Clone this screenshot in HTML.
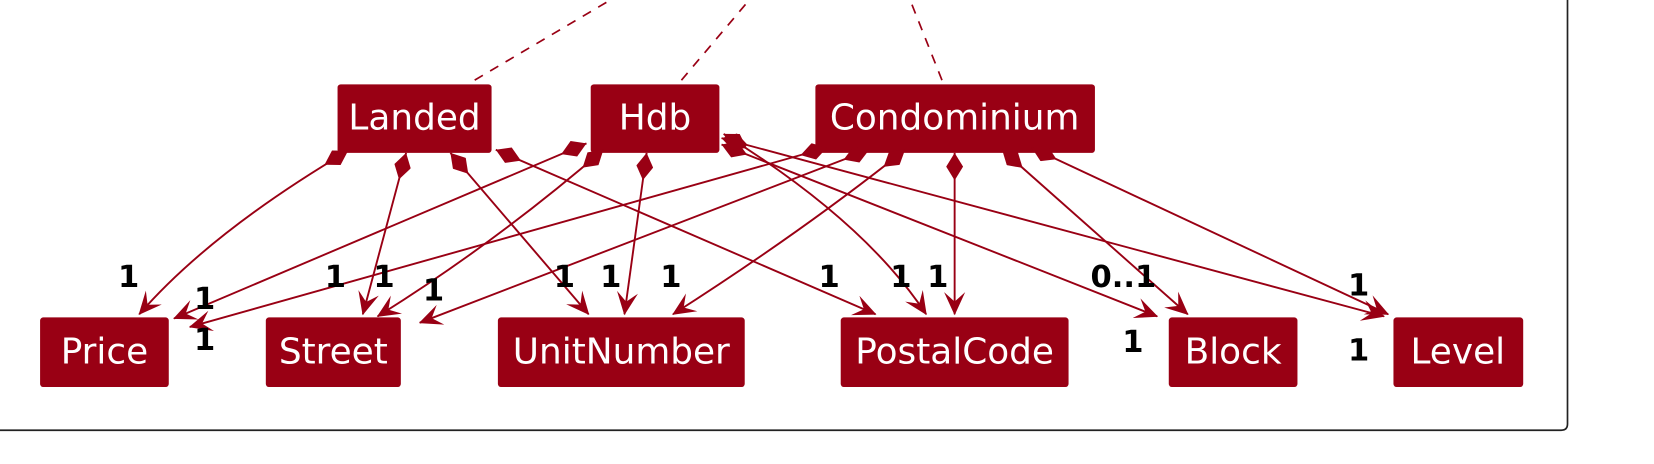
<!DOCTYPE html>
<html><head><meta charset="utf-8"><style>
html,body{margin:0;padding:0;background:#fff;}
svg{display:block;}
.b{fill:#990014;}
.t{fill:#fff;font-family:"DejaVu Sans",sans-serif;font-size:34px;text-anchor:middle;dominant-baseline:central;}
.e{fill:none;stroke:#990014;stroke-width:1.8;marker-start:url(#dia);marker-end:url(#arr);}
.l{font-family:"DejaVu Sans",sans-serif;font-size:29px;font-weight:bold;fill:#000;text-anchor:middle;}
</style></head><body>
<svg width="1654" height="464" viewBox="0 0 1568 440" preserveAspectRatio="none" xmlns="http://www.w3.org/2000/svg">
<defs>
<marker id="arr" viewBox="0 0 22 22" refX="21" refY="11" markerWidth="22" markerHeight="22" markerUnits="userSpaceOnUse" orient="auto">
<path d="M0,1 L22,11 L0,21 L9,11 Z" fill="#990014"/>
</marker>
<marker id="dia" viewBox="0 0 26 16" refX="0" refY="8" markerWidth="26" markerHeight="16" markerUnits="userSpaceOnUse" orient="auto">
<path d="M0,8 L13,0 L26,8 L13,16 Z" fill="#990014"/>
</marker>
</defs>
<path d="M-5,408 L1480,408 Q1486,408 1486,402 L1486,-5" fill="none" stroke="#222" stroke-width="1.6"/>
<g stroke="#990014" stroke-width="1.6" stroke-dasharray="9,8" fill="none">
<path d="M450,76 L582,-2"/><path d="M646,76 L712,-2"/><path d="M893,76 L862,-2"/>
</g>
<rect class="b" x="320" y="80" width="146" height="65" rx="3"/><text class="t" x="393" y="112">Landed</text>
<rect class="b" x="560" y="80" width="122" height="65" rx="3"/><text class="t" x="621" y="112">Hdb</text>
<rect class="b" x="773" y="80" width="265" height="65" rx="3"/><text class="t" x="905" y="112">Condominium</text>
<rect class="b" x="38" y="301" width="122" height="66" rx="3"/><text class="t" x="99" y="334">Price</text>
<rect class="b" x="252" y="301" width="128" height="66" rx="3"/><text class="t" x="316" y="334">Street</text>
<rect class="b" x="472" y="301" width="234" height="66" rx="3"/><text class="t" x="589" y="334">UnitNumber</text>
<rect class="b" x="797" y="301" width="216" height="66" rx="3"/><text class="t" x="905" y="334">PostalCode</text>
<rect class="b" x="1108" y="301" width="122" height="66" rx="3"/><text class="t" x="1169" y="334">Block</text>
<rect class="b" x="1321" y="301" width="123" height="66" rx="3"/><text class="t" x="1382" y="334">Level</text>
<path class="e" d="M330,143 Q200,220 132,298"/>
<path class="e" d="M385,145 L344,298"/>
<path class="e" d="M427,145 L558,298"/>
<path class="e" d="M470,142 L830,298"/>
<path class="e" d="M556,136 L165,302"/>
<path class="e" d="M572,142 Q470,230 358,300"/>
<path class="e" d="M613,145 L592,298"/>
<path class="e" d="M686,127 Q820,210 878,298"/>
<path class="e" d="M684,137 L1097,300"/>
<path class="e" d="M684,131 L1312,300"/>
<path class="e" d="M784,140 L180,310"/>
<path class="e" d="M824,142 L398,306"/>
<path class="e" d="M858,142 Q760,220 638,298"/>
<path class="e" d="M905,145 L905,298"/>
<path class="e" d="M950,142 L1126,298"/>
<path class="e" d="M978,140 L1316,298"/>
<text class="l" x="122" y="272">1</text>
<text class="l" x="194" y="293">1</text>
<text class="l" x="194" y="332">1</text>
<text class="l" x="318" y="272">1</text>
<text class="l" x="364" y="272">1</text>
<text class="l" x="411" y="285">1</text>
<text class="l" x="535" y="272">1</text>
<text class="l" x="579" y="272">1</text>
<text class="l" x="636" y="272">1</text>
<text class="l" x="786" y="272">1</text>
<text class="l" x="854" y="272">1</text>
<text class="l" x="889" y="272">1</text>
<text class="l" x="1065" y="272">0..1</text>
<text class="l" x="1074" y="334">1</text>
<text class="l" x="1288" y="280">1</text>
<text class="l" x="1288" y="342">1</text>
</svg>
</body></html>
